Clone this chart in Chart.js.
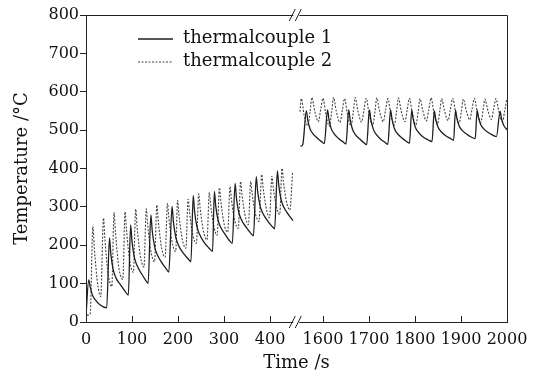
<!DOCTYPE html>
<html>
<head>
<meta charset="utf-8">
<script src="https://cdn.jsdelivr.net/npm/chart.js@4.4.0/dist/chart.umd.min.js"></script>
<style>
  html, body { margin: 0; padding: 0; background: #fff; }
  #wrap { width: 546px; height: 377px; }
</style>
</head>
<body>
<div id="wrap"><canvas id="chart"></canvas></div>
<script>
// time (s), temperature (°C)
const tc1Left = [
  [0, 18], [6, 110], [9, 92], [14, 70], [20, 58], [30, 45], [45, 37],
  [51, 219], [54, 177], [59, 137], [65, 115], [75, 97], [85, 80], [92, 70],
  [97, 253], [100, 210], [105, 169], [111, 147], [121, 125], [129, 110], [135, 101],
  [141, 279], [144, 237], [149, 197], [155, 175], [165, 154], [174, 139], [180, 130],
  [187, 301], [190, 261], [195, 222], [201, 200], [211, 180], [221, 166], [228, 157],
  [233, 329], [236, 288], [241, 249], [247, 228], [257, 207], [267, 193], [275, 184],
  [279, 340], [282, 302], [287, 266], [293, 246], [303, 227], [311, 213], [318, 205],
  [324, 361], [327, 323], [332, 286], [338, 266], [348, 247], [357, 233], [364, 225],
  [370, 379], [373, 341], [378, 304], [384, 284], [394, 265], [403, 251], [410, 243],
  [416, 394], [419, 356], [424, 319], [430, 299], [440, 280], [450, 264]
];
const tc1Right = [
  [1551, 458], [1556, 462], [1564, 550], [1567, 526], [1572, 503], [1578, 491], [1588, 479], [1597, 470], [1603, 465],
  [1610, 553], [1613, 528], [1618, 504], [1624, 491], [1634, 478], [1644, 469], [1650, 464],
  [1656, 553], [1659, 528], [1664, 503], [1670, 489], [1680, 477], [1689, 467], [1695, 462],
  [1701, 553], [1704, 528], [1709, 504], [1715, 490], [1725, 477], [1735, 468], [1741, 463],
  [1747, 553], [1750, 529], [1755, 505], [1761, 492], [1771, 480], [1781, 471], [1788, 466],
  [1793, 552], [1796, 529], [1801, 507], [1807, 495], [1817, 483], [1828, 475], [1837, 470],
  [1842, 550], [1845, 529], [1850, 508], [1856, 497], [1866, 486], [1876, 479], [1884, 474],
  [1888, 552], [1891, 531], [1896, 511], [1902, 500], [1912, 490], [1922, 482], [1931, 478],
  [1935, 552], [1938, 533], [1943, 514], [1949, 504], [1959, 494], [1969, 487], [1977, 483],
  [1985, 549], [1988, 530], [1993, 512], [2000, 501]
];
const tc2Left = [
  [2, 18], [9, 20],
  [15, 249], [18, 194], [22, 136], [26, 93], [32, 66],
  [38, 271], [41, 217], [45, 160], [49, 119], [56, 92],
  [61, 286], [64, 234], [68, 178], [72, 137], [80, 111],
  [85, 287], [88, 240], [92, 189], [96, 153], [103, 129],
  [108, 294], [111, 249], [115, 200], [119, 166], [126, 143],
  [131, 295], [134, 254], [138, 209], [142, 178], [149, 157],
  [154, 305], [157, 264], [161, 221], [165, 189], [172, 169],
  [177, 309], [180, 272], [184, 232], [188, 203], [195, 184],
  [199, 317], [202, 280], [206, 240], [210, 211], [217, 192],
  [222, 320], [225, 286], [229, 249], [233, 222], [240, 205],
  [245, 334], [248, 298], [252, 260], [256, 232], [263, 214],
  [268, 338], [271, 304], [275, 269], [279, 243], [285, 226],
  [290, 350], [293, 315], [297, 278], [301, 251], [308, 234],
  [313, 353], [316, 320], [320, 285], [324, 260], [331, 244],
  [336, 366], [339, 332], [343, 297], [347, 271], [353, 254],
  [358, 366], [361, 335], [365, 302], [369, 278], [376, 262],
  [382, 384], [385, 350], [389, 315], [393, 289], [399, 272],
  [404, 380], [407, 350], [411, 318], [415, 295], [421, 280],
  [426, 400], [429, 367], [433, 332], [437, 307], [443, 292],
  [449, 392]
];
const tc2Right = [
  [1550, 548], [1553, 582], [1559, 540], [1567, 512], [1572, 548],
  [1576, 585], [1582, 550], [1590, 522], [1595, 553],
  [1600, 583], [1606, 543], [1614, 510], [1619, 548],
  [1623, 585], [1629, 549], [1637, 520], [1642, 551],
  [1647, 582], [1653, 543], [1661, 511], [1666, 548],
  [1670, 585], [1676, 550], [1684, 521], [1689, 552],
  [1694, 583], [1700, 544], [1708, 512], [1713, 548],
  [1717, 584], [1723, 550], [1731, 522], [1736, 552],
  [1741, 582], [1747, 544], [1755, 513], [1760, 549],
  [1764, 584], [1770, 550], [1778, 522], [1783, 552],
  [1788, 583], [1794, 545], [1802, 514], [1807, 549],
  [1811, 582], [1817, 551], [1825, 524], [1830, 553],
  [1835, 584], [1841, 547], [1849, 516], [1854, 550],
  [1858, 582], [1864, 551], [1872, 525], [1877, 554],
  [1882, 583], [1888, 548], [1896, 518], [1901, 550],
  [1905, 581], [1911, 553], [1919, 527], [1924, 555],
  [1929, 583], [1935, 550], [1943, 520], [1948, 552],
  [1952, 581], [1958, 553], [1966, 528], [1971, 555],
  [1976, 582], [1982, 550], [1990, 522], [1995, 550],
  [1999, 578]
];
const seriesNames = ['thermalcouple 1', 'thermalcouple 2'];
const xTickLabels = [0, 100, 200, 300, 400, 1600, 1700, 1800, 1900, 2000];
const yTicks = [0, 100, 200, 300, 400, 500, 600, 700, 800];

// broken time axis: 0-450 s, then 1550-2000 s
const SHIFT = 1085;
const BREAK_AT = 457;
const toAxis = t => (t > 1000 ? t - SHIFT : t);
const fromAxis = v => (v > BREAK_AT ? v + SHIFT : v);

function buildData(left, right) {
  const pts = left.map(p => ({ x: toAxis(p[0]), y: p[1] }));
  pts.push({ x: BREAK_AT, y: null });
  right.forEach(p => pts.push({ x: toAxis(p[0]), y: p[1] }));
  return pts;
}

const FONT = 'DejaVu Serif';

const frameAndBreaks = {
  id: 'frameAndBreaks',
  afterDatasetsDraw(chart) {
    const { ctx, chartArea: a, scales } = chart;
    ctx.save();
    // frame top/right
    ctx.strokeStyle = '#222';
    ctx.lineWidth = 1;
    ctx.beginPath();
    ctx.moveTo(a.left, a.top + 0.5);
    ctx.lineTo(a.right + 0.5, a.top + 0.5);
    ctx.lineTo(a.right + 0.5, a.bottom);
    ctx.stroke();
    // inward ticks on the time axis
    xTickLabels.forEach(lbl => {
      const px = Math.round(scales.x.getPixelForValue(toAxis(lbl))) + 0.5;
      ctx.beginPath();
      ctx.moveTo(px, a.bottom);
      ctx.lineTo(px, a.bottom - 6);
      ctx.stroke();
    });
    // break marks
    const bx = scales.x.getPixelForValue(BREAK_AT);
    [a.top, a.bottom].forEach(yy => {
      ctx.fillStyle = '#fff';
      ctx.fillRect(bx - 3, yy - 3, 6, 6);
      ctx.beginPath();
      ctx.moveTo(bx - 7, yy + 6);
      ctx.lineTo(bx - 1, yy - 6);
      ctx.moveTo(bx - 1, yy + 6);
      ctx.lineTo(bx + 5, yy - 6);
      ctx.stroke();
    });
    // legend
    ctx.font = '18px "' + FONT + '"';
    ctx.textBaseline = 'middle';
    ctx.fillStyle = '#111';
    chart.data.datasets.forEach((ds, i) => {
      const y = 38 + i * 23;
      ctx.strokeStyle = ds.borderColor;
      ctx.lineWidth = ds.borderWidth;
      ctx.setLineDash(ds.borderDash || []);
      ctx.beginPath();
      ctx.moveTo(138, y + 1);
      ctx.lineTo(173, y + 1);
      ctx.stroke();
      ctx.setLineDash([]);
      ctx.fillText(seriesNames[i], 183, y);
    });
    ctx.restore();
  }
};

new Chart(document.getElementById('chart'), {
  type: 'line',
  data: {
    datasets: [
      {
        label: seriesNames[0],
        data: buildData(tc1Left, tc1Right),
        borderColor: '#1e1e1e',
        borderWidth: 1.3,
        pointRadius: 0,
        cubicInterpolationMode: 'monotone',
        spanGaps: false
      },
      {
        label: seriesNames[1],
        data: buildData(tc2Left, tc2Right),
        borderColor: '#444',
        borderWidth: 1.1,
        borderDash: [2, 1.5],
        pointRadius: 0,
        cubicInterpolationMode: 'monotone',
        spanGaps: false
      }
    ]
  },
  options: {
    responsive: true,
    maintainAspectRatio: false,
    animation: false,
    layout: { padding: { top: 15, right: 39, left: 0, bottom: 0 } },
    plugins: { legend: { display: false }, tooltip: { enabled: false } },
    scales: {
      x: {
        type: 'linear',
        min: 0,
        max: 915,
        afterBuildTicks: s => { s.ticks = xTickLabels.map(v => ({ value: toAxis(v) })); },
        afterFit: s => { s.height = 55; },
        grid: { drawOnChartArea: false, drawTicks: false },
        border: { display: true, color: '#222', width: 1 },
        ticks: {
          padding: 8,
          autoSkip: false,
          maxRotation: 0,
          color: '#111',
          font: { family: FONT, size: 16 },
          callback: v => String(fromAxis(v))
        },
        title: {
          display: true,
          text: 'Time /s',
          color: '#111',
          font: { family: FONT, size: 18 },
          padding: { top: 0, bottom: 3 }
        }
      },
      y: {
        min: 0,
        max: 800,
        afterBuildTicks: s => { s.ticks = yTicks.map(v => ({ value: v })); },
        afterFit: s => { s.width = 86; },
        grid: { drawOnChartArea: false, drawTicks: true, tickLength: 6, color: '#222' },
        border: { display: true, color: '#222', width: 1 },
        ticks: {
          padding: 1,
          color: '#111',
          font: { family: FONT, size: 16 }
        },
        title: {
          display: true,
          text: 'Temperature /°C',
          color: '#111',
          font: { family: FONT, size: 18 },
          padding: { top: 12, bottom: 0 }
        }
      }
    }
  },
  plugins: [frameAndBreaks]
});
</script>
</body>
</html>
